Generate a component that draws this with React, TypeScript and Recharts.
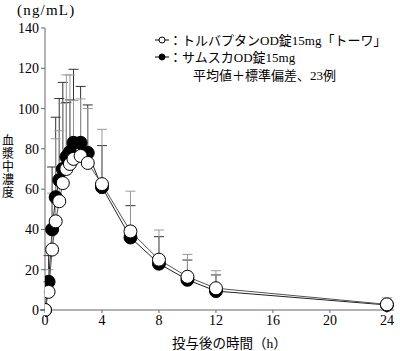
import React from "react";
import { LineChart, Line, XAxis, YAxis, ErrorBar } from "recharts";

// sampling times (h)
const hours = [0, 0.25, 0.5, 0.75, 1, 1.25, 1.5, 1.75, 2, 2.5, 3, 4, 6, 8, 10, 12, 24];
// トルバプタンOD錠15mg「トーワ」 (open circles)
const towaMean = [0, 9, 30, 44, 54, 63, 70, 72.5, 75, 76.5, 73, 62.5, 39, 25, 16.5, 10.8, 2.8];
const towaSD = [0, 11, 28, 41, 35, 39.6, 46.7, 44.2, 29, 28.3, 27, 27.2, 20, 14.7, 11.1, 8.7, 3.2];
// サムスカOD錠15mg (filled circles)
const samscaMean = [0, 14, 40, 56, 64.5, 70, 76, 78.5, 83, 83, 78, 61, 36, 23, 15, 9.4, 2.5];
const samscaSD = [0, 13, 31, 39.7, 40.5, 43, 27, 25.8, 36.5, 28, 23.8, 20.6, 15.8, 13.4, 9.8, 8, 2.5];

const xTicks = [0, 4, 8, 12, 16, 20, 24];
const yTicks = [0, 20, 40, 60, 80, 100, 120, 140];
const yLabel = ["血", "漿", "中", "濃", "度"];

const font = '"Liberation Serif", "Noto Sans CJK JP", serif';
const axisColor = "#666";

const data = hours.map((t, i) => ({
  t,
  towa: towaMean[i],
  towaErr: [0, towaSD[i]],
  samsca: samscaMean[i],
  samscaErr: [0, samscaSD[i]],
}));

function LegendMark({ filled }: { filled: boolean }) {
  return (
    <svg width={14} height={10} style={{ display: "block" }}>
      <line x1={0} y1={5} x2={14} y2={5} stroke="#000" strokeWidth={1} />
      <circle cx={7} cy={5} r={3} fill={filled ? "#000" : "#fff"} stroke="#000" strokeWidth={1} />
    </svg>
  );
}

export default function App() {
  const text = { position: "absolute" as const, fontFamily: font, color: "#000", whiteSpace: "nowrap" as const };
  return (
    <div style={{ position: "absolute", left: 0, top: 0, width: 400, height: 351, background: "#fff" }}>
      <LineChart width={400} height={351} data={data} margin={{ top: 28, right: 6, bottom: 11, left: 0 }}>
        <XAxis
          dataKey="t"
          type="number"
          domain={[0, 24.5]}
          ticks={xTicks}
          height={30}
          tickSize={3}
          tickMargin={2}
          stroke={axisColor}
          tick={{ fill: "#000", fontSize: 14, fontFamily: font }}
          allowDataOverflow
        />
        <YAxis
          type="number"
          domain={[0, 140]}
          ticks={yTicks}
          width={45}
          tickSize={4}
          tickMargin={2}
          stroke={axisColor}
          tick={{ fill: "#000", fontSize: 14, fontFamily: font }}
        />
        <Line
          dataKey="samsca"
          stroke="#222"
          strokeWidth={1}
          isAnimationActive={false}
          dot={{ r: 6.5, fill: "#000", stroke: "#000", strokeWidth: 1 }}
        >
          <ErrorBar dataKey="samscaErr" direction="y" width={5} stroke="#333" strokeWidth={1} />
        </Line>
        <Line
          dataKey="towa"
          stroke="#555"
          strokeWidth={1}
          isAnimationActive={false}
          dot={{ r: 6.5, fill: "#fff", stroke: "#000", strokeWidth: 1 }}
        >
          <ErrorBar dataKey="towaErr" direction="y" width={5} stroke="#999" strokeWidth={1} />
        </Line>
      </LineChart>

      <div style={{ ...text, left: 17, top: 2, fontSize: 15, letterSpacing: 1.2 }}>(ng/mL)</div>
      {yLabel.map((c, i) => (
        <div key={i} style={{ ...text, left: 2, top: 135 + i * 13, fontSize: 12, lineHeight: "13px" }}>
          {c}
        </div>
      ))}
      <div style={{ ...text, left: 172, top: 332, fontSize: 13.5 }}>投与後の時間（h）</div>

      <div style={{ ...text, left: 155, top: 30, fontSize: 13, display: "flex", alignItems: "center" }}>
        <LegendMark filled={false} />
        <span>：トルバプタンOD錠15mg「トーワ」</span>
      </div>
      <div style={{ ...text, left: 155, top: 47, fontSize: 13, display: "flex", alignItems: "center" }}>
        <LegendMark filled />
        <span>：サムスカOD錠15mg</span>
      </div>
      <div style={{ ...text, left: 193, top: 65, fontSize: 13 }}>平均値＋標準偏差、23例</div>
    </div>
  );
}
